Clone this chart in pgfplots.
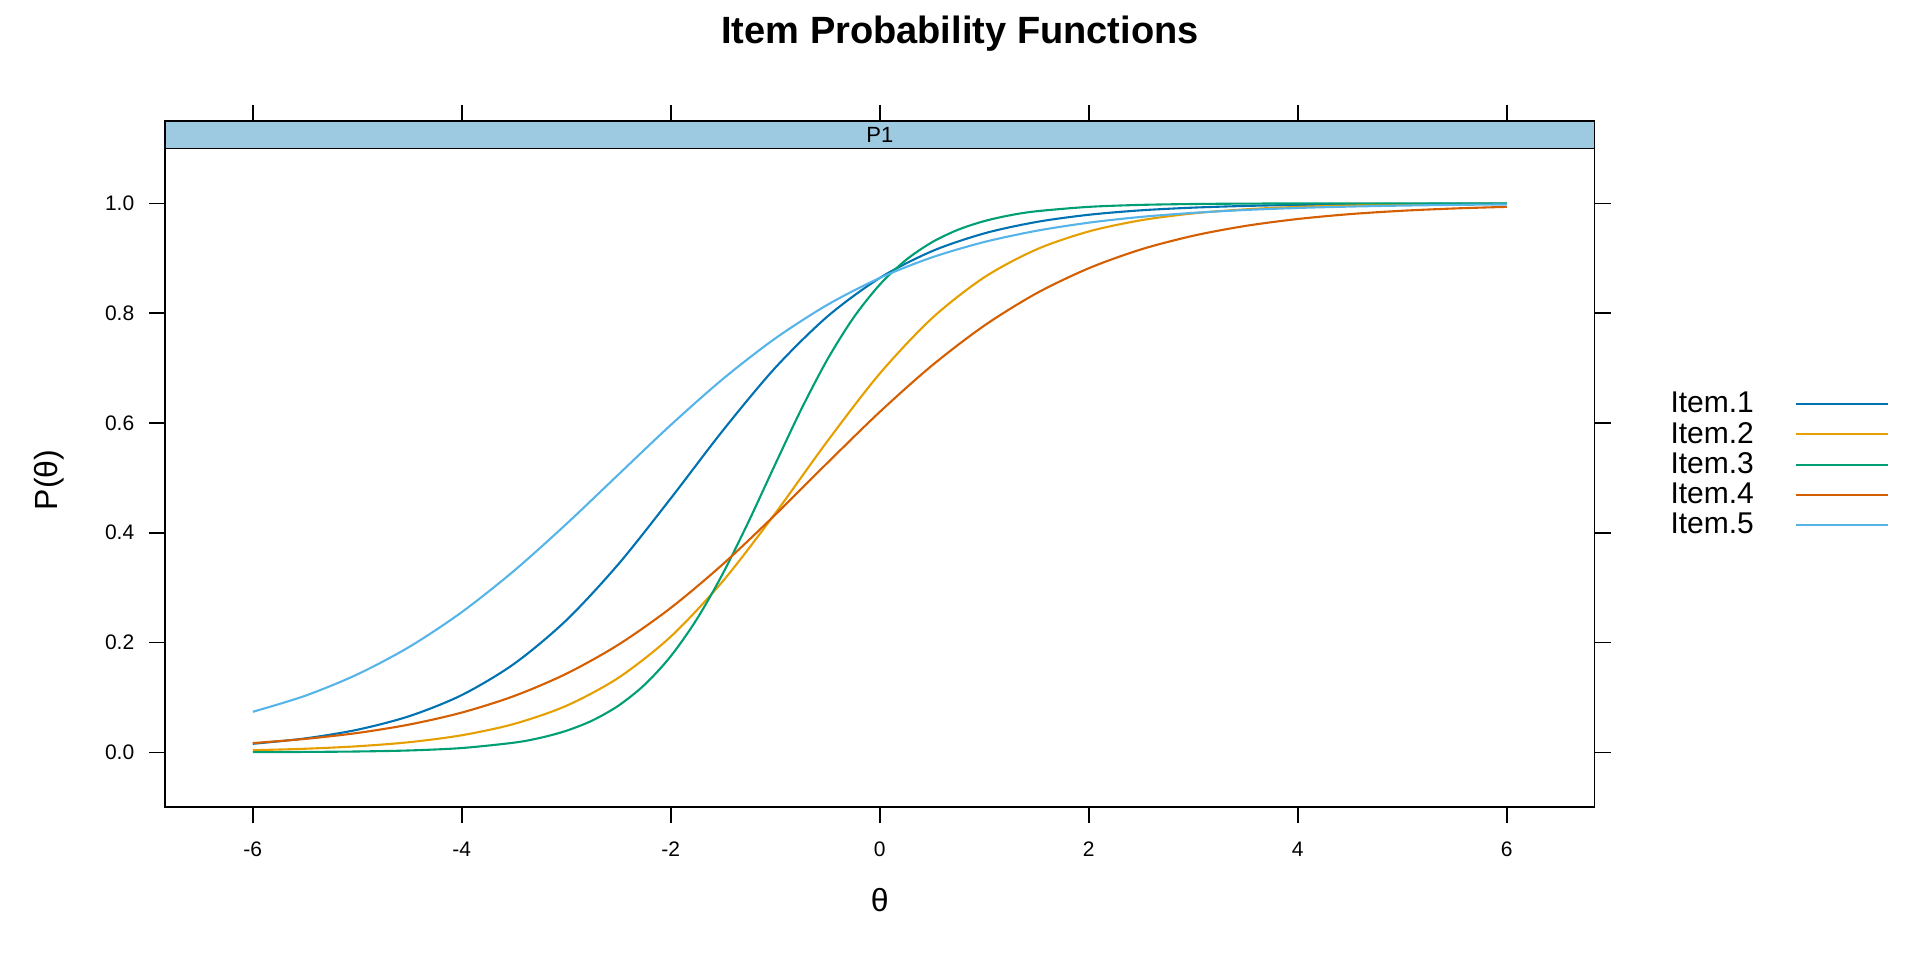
\documentclass[border=0pt]{standalone}
\usepackage{fontspec}
\setmainfont{Liberation Sans}
\usepackage{pgfplots}
\pgfplotsset{compat=1.18}
\definecolor{cA}{HTML}{0072B2}
\definecolor{cB}{HTML}{E69F00}
\definecolor{cC}{HTML}{009E73}
\definecolor{cD}{HTML}{D55E00}
\definecolor{cE}{HTML}{56B4E9}
\definecolor{stripblue}{RGB}{158,202,225}
\begin{document}
\begin{tikzpicture}
\useasboundingbox (-82.5pt,-76.4pt) rectangle ++(960pt,480pt);
\begin{axis}[
  at={(0,0)}, anchor=south west,
  scale only axis, width=714.8pt, height=343.1pt,
  xmin=-6.84, xmax=6.84, ymin=-0.1, ymax=1.15,
  axis on top,
  axis line style={line width=0.8pt},
  every tick/.style={black, line width=0.8pt},
  tick align=outside, major tick length=8pt,
  xtick={-6,-4,-2,0,2,4,6}, xticklabels={-6,-4,-2,0,2,4,6},
  ytick={0,0.2,0.4,0.6,0.8,1}, yticklabels={0.0,0.2,0.4,0.6,0.8,1.0},
  tick label style={font=\fontsize{10.5}{10.5}\selectfont},
  xticklabel style={yshift=-5.7pt},
  yticklabel style={xshift=-3.85pt},
  xlabel={θ},
  xlabel style={at={(axis description cs:0.5,-0.1352)}, anchor=center, font=\fontsize{16}{16}\selectfont},
  ylabel={P(θ)},
  ylabel style={at={(axis description cs:-0.0810,0.4768)}, anchor=center, font=\fontsize{16}{16}\selectfont},
  title={Item Probability Functions},
  every axis title shift=0pt,
  title style={at={(axis description cs:0.5561,1.1132)}, anchor=base, font=\bfseries\fontsize{19}{19}\selectfont},
  legend style={at={(axis description cs:1.0531,0.6047)}, anchor=north west, draw=none, fill=none,
    inner sep=0pt, outer sep=0pt, row sep=3.2pt, column sep=20.5pt,
    font=\fontsize{15}{15}\selectfont, nodes={inner sep=0pt}},
  legend cell align=left, legend plot pos=right,
  legend image code/.code={\draw[#1, line width=1.05pt] (0pt,0pt) -- (45.8pt,0pt);},
]
\fill[stripblue] (axis cs:-6.84,1.1) rectangle (axis cs:6.84,1.15);
\draw[line width=0.8pt] (axis cs:-6.84,1.1) -- (axis cs:6.84,1.1);
\node[font=\fontsize{11}{11}\selectfont] at (axis cs:0,1.125) {P1};

\addplot[cA, line width=1.05pt, smooth] coordinates {
(-6,0.0155) (-5.5,0.0253) (-5,0.0411) (-4.5,0.0660) (-4,0.1043) (-3.5,0.1611)
(-3,0.2405) (-2.5,0.3430) (-2,0.4626) (-1.5,0.5866) (-1,0.7006) (-0.5,0.7941)
(0,0.8641) (0.5,0.9129) (1,0.9453) (1.5,0.9661) (2,0.9792) (2.5,0.9873)
(3,0.9922) (3.5,0.9953) (4,0.9971) (4.5,0.9983) (5,0.9989) (5.5,0.9994) (6,0.9996)};
\addlegendentry{Item.1}
\addplot[cB, line width=1.05pt, smooth] coordinates {
(-6,0.0038) (-5.5,0.0065) (-5,0.0110) (-4.5,0.0185) (-4,0.0311) (-3.5,0.0517)
(-3,0.0847) (-2.5,0.1359) (-2,0.2108) (-1.5,0.3122) (-1,0.4354) (-0.5,0.5671)
(0,0.6900) (0.5,0.7908) (1,0.8653) (1.5,0.9161) (2,0.9488) (2.5,0.9692)
(3,0.9817) (3.5,0.9891) (4,0.9936) (4.5,0.9962) (5,0.9978) (5.5,0.9987) (6,0.9992)};
\addlegendentry{Item.2}
\addplot[cC, line width=1.05pt, smooth] coordinates {
(-6,0.0003) (-5.5,0.0007) (-5,0.0015) (-4.5,0.0034) (-4,0.0078) (-3.5,0.0176)
(-3.25,0.0263) (-3,0.0392) (-2.75,0.0580) (-2.5,0.0851) (-2.25,0.1232) (-2,0.1751)
(-1.75,0.2428) (-1.5,0.3263) (-1.25,0.4225) (-1,0.5250) (-0.75,0.6254) (-0.5,0.7161)
(-0.25,0.7921) (0,0.8520) (0.25,0.8968) (0.5,0.9292) (0.75,0.9520) (1,0.9677)
(1.25,0.9784) (1.5,0.9856) (2,0.9936) (2.5,0.9972) (3,0.9988) (3.5,0.9995)
(4,0.9998) (4.5,0.9999) (5,0.99995) (5.5,0.99998) (6,0.99999)};
\addlegendentry{Item.3}
\addplot[cD, line width=1.05pt, smooth] coordinates {
(-6,0.0168) (-5.5,0.0244) (-5,0.0352) (-4.5,0.0507) (-4,0.0724) (-3.5,0.1025)
(-3,0.1431) (-2.5,0.1962) (-2,0.2631) (-1.5,0.3430) (-1,0.4329) (-0.5,0.5275)
(0,0.6201) (0.5,0.7047) (1,0.7773) (1.5,0.8362) (2,0.8818) (2.5,0.9161)
(3,0.9410) (3.5,0.9589) (4,0.9715) (4.5,0.9804) (5,0.9865) (5.5,0.9907) (6,0.9936)};
\addlegendentry{Item.4}
\addplot[cE, line width=1.05pt, smooth] coordinates {
(-6,0.0738) (-5.5,0.1029) (-5,0.1419) (-4.5,0.1923) (-4,0.2554) (-3.5,0.3307)
(-3,0.4158) (-2.5,0.5062) (-2,0.5963) (-1.5,0.6803) (-1,0.7540) (-0.5,0.8153)
(0,0.8641) (0.5,0.9016) (1,0.9296) (1.5,0.9500) (2,0.9648) (2.5,0.9753)
(3,0.9827) (3.5,0.9879) (4,0.9916) (4.5,0.9941) (5,0.9959) (5.5,0.9972) (6,0.9980)};
\addlegendentry{Item.5}
\end{axis}
\end{tikzpicture}
\end{document}
